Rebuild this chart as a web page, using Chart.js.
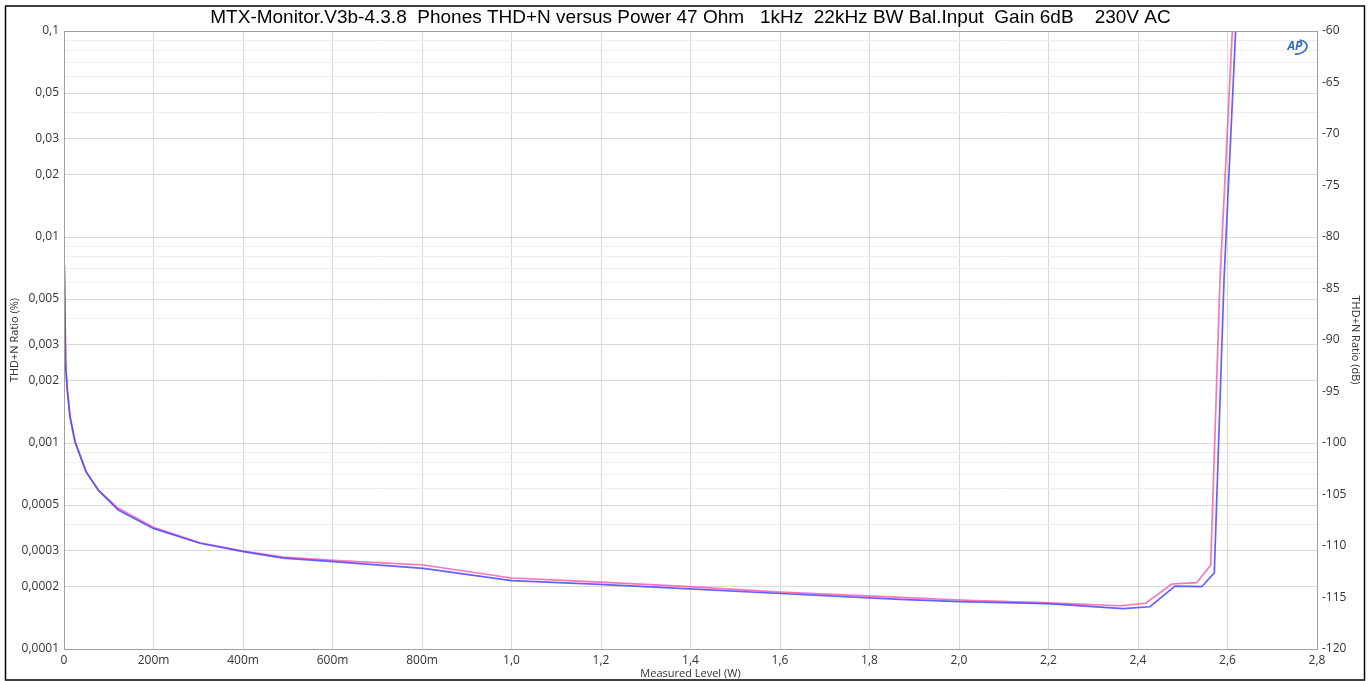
<!DOCTYPE html>
<html><head><meta charset="utf-8">
<script src="https://cdn.jsdelivr.net/npm/chart.js@4.4.1/dist/chart.umd.min.js"></script>
<style>html,body{margin:0;padding:0;background:#fff;}#wrap{position:relative;width:1372px;height:681px;}</style>
</head><body><div id="wrap"><canvas id="c"></canvas></div>
<script>
const chartTitle = "MTX-Monitor.V3b-4.3.8  Phones THD+N versus Power 47 Ohm   1kHz  22kHz BW Bal.Input  Gain 6dB    230V AC";
const xAxisTitle = "Measured Level (W)";
const yAxisTitle = "THD+N Ratio (%)";
const y2AxisTitle = "THD+N Ratio (dB)";

const xTickValues = [0,0.2,0.4,0.6,0.8,1.0,1.2,1.4,1.6,1.8,2.0,2.2,2.4,2.6,2.8];
const xTickLabels = ["0","200m","400m","600m","800m","1,0","1,2","1,4","1,6","1,8","2,0","2,2","2,4","2,6","2,8"];
const yTickValues = [0.0001,0.0002,0.0003,0.0005,0.001,0.002,0.003,0.005,0.01,0.02,0.03,0.05,0.1];
const yTickLabels = ["0,0001","0,0002","0,0003","0,0005","0,001","0,002","0,003","0,005","0,01","0,02","0,03","0,05","0,1"];
const y2TickValues = [-120,-115,-110,-105,-100,-95,-90,-85,-80,-75,-70,-65,-60];
const y2TickLabels = ["-120","-115","-110","-105","-100","-95","-90","-85","-80","-75","-70","-65","-60"];

const bluePower = [0.0007,0.0038,0.0074,0.0134,0.0246,0.0492,0.0771,0.1213,0.1996,0.3039,0.4007,0.49,0.6018,0.8029,1.0004,1.1977,1.3765,1.600,1.868,2.002,2.199,2.3664,2.4268,2.4827,2.5423,2.5705,2.5922,2.6182,2.6247];
const blueThdn  = [0.00731,0.002347,0.001808,0.001342,0.001015,0.000726,0.000589,0.000473,0.000385,0.000326,0.000297,0.000276,0.0002654,0.0002464,0.0002146,0.0002061,0.0001971,0.000186,0.0001742,0.0001697,0.000166,0.0001569,0.0001604,0.0002021,0.0002006,0.000234,0.00618,0.1,0.198];
const pinkPower = [0.0007,0.0038,0.0074,0.0134,0.0246,0.0492,0.0771,0.1213,0.1996,0.3039,0.4007,0.49,0.6018,0.8029,1.0004,1.1977,1.3765,1.600,1.868,2.002,2.199,2.3597,2.4172,2.4753,2.5311,2.5624,2.5832,2.6107,2.6174];
const pinkThdn  = [0.00731,0.002347,0.001808,0.001342,0.001015,0.000726,0.000589,0.000482,0.000390,0.000328,0.000299,0.000279,0.0002695,0.0002557,0.0002212,0.0002114,0.0002021,0.000189,0.0001782,0.0001729,0.0001673,0.0001622,0.0001667,0.0002068,0.0002099,0.000256,0.00618,0.1,0.198];

function pts(xs, ys){ return xs.map((x,i)=>({x:x, y:ys[i]})); }
function findIdx(arr, v){ return arr.findIndex(t => Math.abs(t - v) <= Math.abs(t) * 1e-6 + 1e-12); }

const tickFont = {family: "'Open Sans', sans-serif", size: 12};
const titleFont = {family: "'Open Sans', sans-serif", size: 11};

const decorPlugin = {
  id: 'decor',
  beforeDraw(chart){
    const ctx = chart.ctx;
    ctx.save();
    ctx.fillStyle = '#fff';
    ctx.fillRect(0,0,chart.width,chart.height);
    ctx.restore();
  },
  afterDraw(chart){
    const ctx = chart.ctx, a = chart.chartArea;
    ctx.save();
    ctx.strokeStyle = '#a0a0a0';
    ctx.lineWidth = 1;
    ctx.strokeRect(Math.round(a.left)+0.5, Math.round(a.top)+0.5, Math.round(a.right-a.left), Math.round(a.bottom-a.top));
    ctx.strokeStyle = '#000';
    ctx.lineWidth = 1.5;
    ctx.strokeRect(5.5, 6, 1359, 674);
    ctx.fillStyle = '#000';
    ctx.font = "19px 'Liberation Sans', Arial, sans-serif";
    ctx.textAlign = 'center';
    ctx.textBaseline = 'middle';
    ctx.fillText(chartTitle, (a.left + a.right)/2, 18);
    const lx = 1296, ly = 47;
    ctx.strokeStyle = '#2f6db5';
    ctx.lineWidth = 1.6;
    ctx.beginPath();
    ctx.ellipse(lx+1, ly, 10, 7, -0.15, -1.2, 1.9);
    ctx.stroke();
    ctx.fillStyle = '#2f6db5';
    ctx.font = "italic bold 12px 'Open Sans', sans-serif";
    ctx.fillText('AP', lx - 1, ly);
    ctx.restore();
  }
};

new Chart(document.getElementById('c'), {
  type: 'line',
  data: {
    datasets: [
      { label: 'Ch1', data: pts(bluePower, blueThdn), borderColor: 'rgba(70,70,255,0.85)', borderWidth: 1.7, pointRadius: 0, tension: 0, fill: false, yAxisID: 'y' },
      { label: 'Ch2', data: pts(pinkPower, pinkThdn), borderColor: 'rgba(255,70,155,0.75)', borderWidth: 1.7, pointRadius: 0, tension: 0, fill: false, yAxisID: 'y' }
    ]
  },
  options: {
    responsive: true,
    maintainAspectRatio: false,
    animation: false,
    parsing: false,
    layout: { padding: { left: 0, right: 0, top: 31, bottom: 0 } },
    plugins: { legend: { display: false }, tooltip: { enabled: false }, title: { display: false } },
    scales: {
      x: {
        type: 'linear', position: 'bottom', min: 0, max: 2.8,
        afterBuildTicks: s => { s.ticks = xTickValues.map(v => ({value: v})); },
        afterFit: s => { s.height = 32; },
        ticks: { autoSkip: false, maxRotation: 0, padding: 4, font: tickFont, color: '#333',
          callback: (v) => { const i = findIdx(xTickValues, v); return i >= 0 ? xTickLabels[i] : ''; } },
        grid: { color: '#d9d9d9', drawTicks: false },
        border: { display: false },
        title: { display: true, text: xAxisTitle, font: titleFont, color: '#333', padding: { top: 0, bottom: 1 } }
      },
      y: {
        type: 'logarithmic', position: 'left', min: 0.0001, max: 0.1,
        afterBuildTicks: s => {
          const vals = [];
          for (const d of [0.0001, 0.001, 0.01]) for (let m = 1; m <= 9; m++) vals.push(+(d*m).toPrecision(6));
          vals.push(0.1);
          s.ticks = vals.map(v => ({value: v}));
        },
        afterFit: s => { s.width = 64; },
        ticks: { autoSkip: false, padding: 5, font: tickFont, color: '#333',
          callback: (v) => { const i = findIdx(yTickValues, v); return i >= 0 ? yTickLabels[i] : ''; } },
        grid: { drawTicks: false, color: c => (c.tick && findIdx(yTickValues, c.tick.value) >= 0) ? '#d9d9d9' : '#eeeeee' },
        border: { display: false },
        title: { display: true, text: yAxisTitle, font: titleFont, color: '#333', padding: { top: 8, bottom: 0 } }
      },
      y2: {
        type: 'linear', position: 'right', min: -120, max: -60,
        afterBuildTicks: s => { s.ticks = y2TickValues.map(v => ({value: v})); },
        afterFit: s => { s.width = 55; },
        ticks: { autoSkip: false, padding: 5, font: tickFont, color: '#333',
          callback: (v) => { const i = findIdx(y2TickValues, v); return i >= 0 ? y2TickLabels[i] : ''; } },
        grid: { display: false, drawTicks: false, drawOnChartArea: false },
        border: { display: false },
        title: { display: true, text: y2AxisTitle, font: titleFont, color: '#333', padding: { top: 10, bottom: 0 } }
      }
    }
  },
  plugins: [decorPlugin]
});
</script>
</body></html>
